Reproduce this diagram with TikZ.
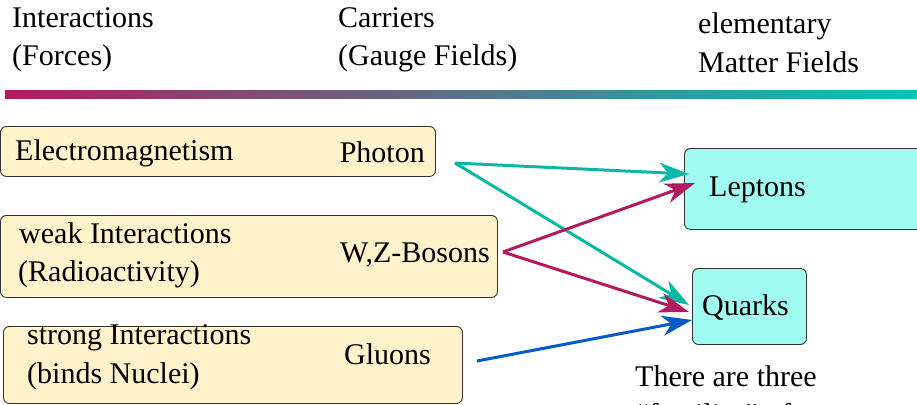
\documentclass[tikz,border=0pt]{standalone}
\usepackage{fontspec}
\setmainfont{Liberation Serif}
\usetikzlibrary{arrows.meta}
\definecolor{boxyellow}{RGB}{255,243,204}
\definecolor{boxcyan}{RGB}{160,252,240}
\definecolor{tealc}{RGB}{10,185,165}
\definecolor{magc}{RGB}{178,28,95}
\definecolor{bluec}{RGB}{8,90,200}
\definecolor{barmid}{RGB}{105,110,140}
\definecolor{barright}{RGB}{0,200,182}
\tikzset{
  ybox/.style={draw=black!80, line width=0.9pt, fill=boxyellow, rounded corners=6pt, inner sep=0pt, anchor=north west},
  cbox/.style={draw=black!80, line width=0.9pt, fill=boxcyan, rounded corners=6pt, inner sep=0pt, anchor=north west},
  txt/.style={anchor=base west, inner sep=0pt, font=\fontsize{30}{36}\selectfont},
  txtr/.style={anchor=base east, inner sep=0pt, font=\fontsize{30}{36}\selectfont},
  conn/.style={line width=3pt, -{Stealth[length=30pt,width=20pt,inset=9pt]}},
}
\begin{document}
\begin{tikzpicture}[x=1pt,y=-1pt]
\useasboundingbox (0,0) rectangle (917,404);
\clip (0,0) rectangle (917,404);
% header
\node[txt] (h1a) at (12,28) {Interactions};
\node[txt] (h1b) at (12,66) {(Forces)};
\node[txt] (h2a) at (338,28) {Carriers};
\node[txt] (h2b) at (338,66) {(Gauge Fields)};
\node[txt] (h3a) at (698,34) {elementary};
\node[txt] (h3b) at (698,72) {Matter Fields};
\shade[left color=magc, middle color=barmid, right color=barright] (5,90) rectangle (917,98);
% boxes
\node[ybox, minimum width=435pt, minimum height=50pt] (em) at (0,126) {};
\node[ybox, minimum width=497pt, minimum height=82pt] (weak) at (0,215) {};
\node[ybox, minimum width=459pt, minimum height=77pt] (strong) at (3,326) {};
\node[cbox, minimum width=240pt, minimum height=81pt] (lep) at (684,148) {};
\node[cbox, minimum width=114pt, minimum height=76pt] (qua) at (692,268) {};
% texts
\node[txt] (t1) at (15,160) {Electromagnetism};
\node[txtr] (t2) at (425,162) {Photon};
\node[txt] (t3) at (19,243) {weak Interactions};
\node[txt] (t4) at (18,281) {(Radioactivity)};
\node[txtr] (t5) at (490,262) {W,Z-Bosons};
\node[txt] (t6) at (27,344) {strong Interactions};
\node[txt] (t7) at (27,383) {(binds Nuclei)};
\node[txtr] (t8) at (431,364) {Gluons};
\node[txt] (t9) at (709,196) {Leptons};
\node[txt] (t10) at (702,315) {Quarks};
\node[txt] (t11) at (635,386) {There are three};
\node[txt] (t12) at (635,424) {“families” of};
% connector endpoints
\coordinate (pS) at (455,163);
\coordinate (wS) at (503,252);
\coordinate (gS) at (477,361);
\coordinate (lA) at (689,174);
\coordinate (lB) at (695,183);
\coordinate (qA) at (689,305);
\coordinate (qB) at (689,312);
\coordinate (qC) at (692,320);
\draw[conn, tealc] (pS) -- (lA);
\draw[conn, tealc] (pS) -- (qA);
\draw[conn, magc] (wS) -- (lB);
\draw[conn, magc] (wS) -- (qB);
\draw[conn, bluec] (gS) -- (qC);
\end{tikzpicture}
\end{document}
